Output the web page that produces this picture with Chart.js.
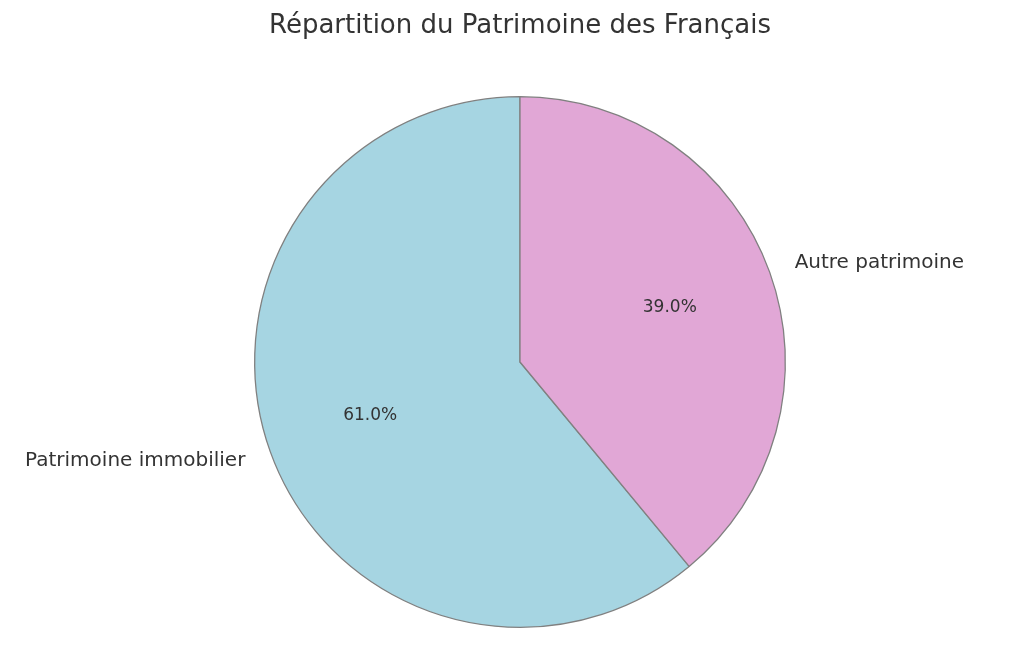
<!DOCTYPE html>
<html><head><meta charset="utf-8">
<script src="https://cdn.jsdelivr.net/npm/chart.js@4"></script>
<style>html,body{margin:0;padding:0;background:#fff}#w{width:1024px;height:668px}</style>
</head><body><div id="w"><canvas id="c"></canvas></div>
<script>
const categories = ["Patrimoine immobilier", "Autre patrimoine"];
const values = [61.0, 39.0];
const colors = ["#a6d5e2", "#e1a7d6"];
const titleText = "Répartition du Patrimoine des Français";
const FONT = "'DejaVu Sans', sans-serif";

const labelPlugin = {
  id: 'lbl',
  afterDatasetsDraw(chart) {
    const ctx = chart.ctx;
    const meta = chart.getDatasetMeta(0);
    const total = values.reduce((a,b)=>a+b,0);
    ctx.save();
    ctx.fillStyle = '#333';
    ctx.textBaseline = 'middle';
    ctx.font = '26px ' + FONT;
    ctx.textAlign = 'center';
    ctx.fillText(titleText, 520, 26);
    meta.data.forEach((arc, i) => {
      const p = arc.getProps(['x','y','startAngle','endAngle','outerRadius'], true);
      const mid = (p.startAngle + p.endAngle) / 2;
      const c = Math.cos(mid), s = Math.sin(mid);
      ctx.font = '17px ' + FONT;
      ctx.textAlign = 'center';
      ctx.fillText((values[i]/total*100).toFixed(1) + '%', p.x + c*p.outerRadius*0.6, p.y + s*p.outerRadius*0.6);
      ctx.font = '20px ' + FONT;
      ctx.textAlign = c >= 0 ? 'left' : 'right';
      ctx.fillText(categories[i], p.x + c*p.outerRadius*1.1, p.y + s*p.outerRadius*1.1);
    });
    ctx.restore();
  }
};

new Chart(document.getElementById('c'), {
  type: 'pie',
  data: { labels: categories, datasets: [{ data: values, backgroundColor: colors, borderColor: '#808080', borderWidth: 1.3 }] },
  options: {
    responsive: true, maintainAspectRatio: false, animation: false,
    rotation: 360 * values[1] / 100,
    layout: { padding: { top: 96, bottom: 40, left: 16, right: 0 } },
    plugins: { legend: { display: false }, tooltip: { enabled: false } }
  },
  plugins: [labelPlugin]
});
</script></body></html>
